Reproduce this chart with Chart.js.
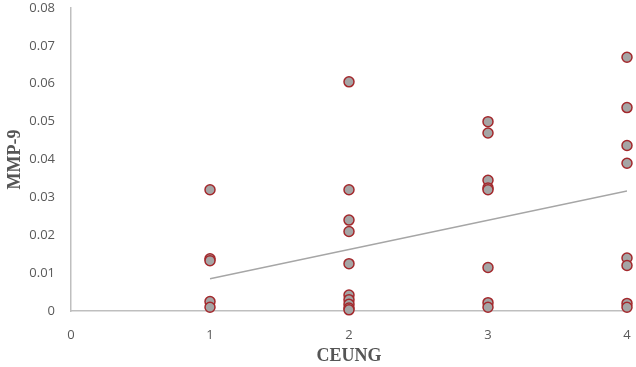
<!DOCTYPE html>
<html>
<head>
<meta charset="utf-8">
<script src="https://cdn.jsdelivr.net/npm/chart.js@4.4.0/dist/chart.umd.min.js"></script>
<style>
  html, body { margin: 0; padding: 0; background: #fff; }
  #wrap { width: 636px; height: 367px; }
</style>
</head>
<body>
<div id="wrap"><canvas id="mmpChart" width="636" height="367"></canvas></div>
<script>
// CEUNG groups and MMP-9 values
const ceungLevels = [1, 2, 3, 4];
const mmpAt1 = [0.032, 0.0138, 0.0133, 0.0025, 0.001];
const mmpAt2 = [0.0605, 0.032, 0.024, 0.021, 0.0125, 0.0042, 0.003, 0.0018, 0.0008, 0.0003];
const mmpAt3 = [0.050, 0.047, 0.0345, 0.0325, 0.032, 0.0115, 0.0022, 0.001];
const mmpAt4 = [0.067, 0.0537, 0.0437, 0.039, 0.014, 0.012, 0.002, 0.001];

// trend line end points
const trendX = [1, 4];
const trendY = [0.0085, 0.0317];

const yTicks = [0, 0.01, 0.02, 0.03, 0.04, 0.05, 0.06, 0.07, 0.08];
const xTicks = [0, 1, 2, 3, 4];

const groups = [mmpAt1, mmpAt2, mmpAt3, mmpAt4];
const points = [];
groups.forEach((vals, i) => {
  vals.forEach(v => points.push({ x: ceungLevels[i], y: v }));
});

const trend = trendX.map((x, i) => ({ x: x, y: trendY[i] }));

const ctx = document.getElementById('mmpChart').getContext('2d');

new Chart(ctx, {
  type: 'scatter',
  data: {
    datasets: [
      {
        label: 'MMP-9',
        data: points,
        backgroundColor: '#a5a5a5',
        borderColor: '#a3282c',
        borderWidth: 1.5,
        pointRadius: 5,
        order: 1,
        clip: false
      },
      {
        type: 'line',
        label: 'Trend',
        data: trend,
        borderColor: '#a6a6a6',
        borderWidth: 1.5,
        pointRadius: 0,
        fill: false,
        order: 2
      }
    ]
  },
  options: {
    responsive: false,
    animation: false,
    layout: { padding: { top: 8, right: 9, left: 0, bottom: 0 } },
    plugins: {
      legend: { display: false },
      tooltip: { enabled: false }
    },
    scales: {
      x: {
        type: 'linear',
        min: 0,
        max: 4,
        afterBuildTicks: s => { s.ticks = xTicks.map(v => ({ value: v })); },
        afterFit: s => { s.height = 56; s.paddingLeft = 0; s.paddingRight = 0; },
        grid: { display: false, drawTicks: false },
        border: { color: '#bfbfbf', width: 1.5 },
        ticks: {
          padding: 16,
          color: '#595959',
          font: { family: 'Open Sans', size: 13 }
        },
        title: {
          display: true,
          text: 'CEUNG',
          color: '#555555',
          padding: { top: 3, bottom: 0 },
          font: { family: 'Liberation Serif', size: 18, weight: 'bold' }
        }
      },
      y: {
        min: 0,
        max: 0.08,
        afterBuildTicks: s => { s.ticks = yTicks.map(v => ({ value: v })); },
        afterFit: s => { s.width = 71; s.paddingTop = 0; s.paddingBottom = 0; },
        grid: { display: false, drawTicks: false },
        border: { color: '#bfbfbf', width: 1.5 },
        ticks: {
          padding: 16,
          color: '#595959',
          font: { family: 'Open Sans', size: 13 },
          callback: v => String(v)
        },
        title: {
          display: true,
          text: 'MMP-9',
          color: '#555555',
          padding: { top: 5, bottom: 0 },
          font: { family: 'Liberation Serif', size: 18, weight: 'bold' }
        }
      }
    }
  }
});
</script>
</body>
</html>
